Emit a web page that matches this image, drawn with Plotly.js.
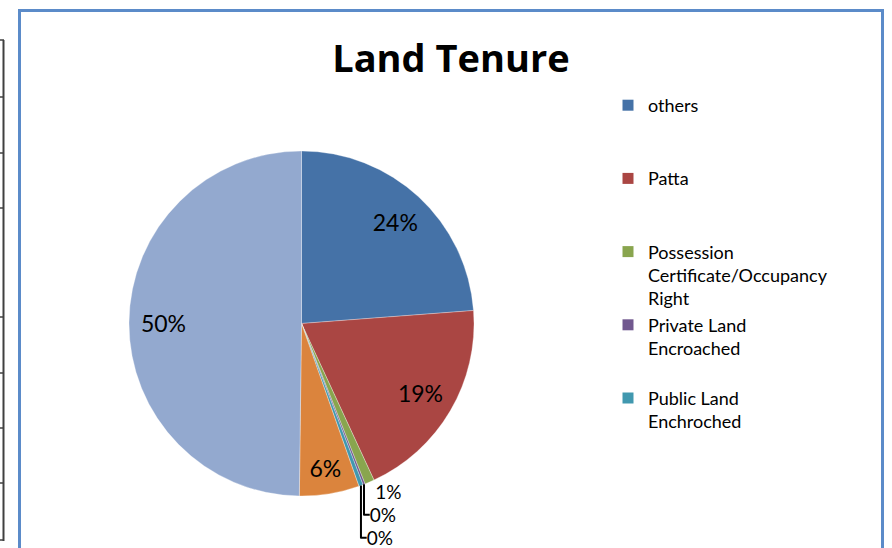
<!DOCTYPE html>
<html>
<head>
<meta charset="utf-8">
<script src="https://cdn.plot.ly/plotly-3.0.1.min.js"></script>
<style>html,body{margin:0;padding:0;background:#fff;}#chart{width:892px;height:548px;}</style>
</head>
<body>
<div id="chart"></div>
<script>
// ---- data ----
var categories = ["others", "Patta", "Possession<br>Certificate/Occupancy<br>Right", "Private Land<br>Encroached", "Public Land<br>Enchroched", "Unlisted A", "Unlisted B"];
var shares = [23.8, 19.3, 0.9, 0.2, 0.4, 5.6, 49.8];
var sliceColors = ["#4572A7", "#AA4643", "#89A54E", "#71588F", "#4198AF", "#DB843D", "#93A9CF"];
var legendCount = 5; // only the first five legend entries are visible in the chart
var titleText = "Land Tenure";

// ---- layout helpers (styling only) ----
var W = 892, H = 548;
function px(x){ return x / W; }
function py(y){ return 1 - y / H; }
var pieDomain = {x: [px(129), px(474)], y: [py(496), py(151)]};
var FONT = "Lato, 'Open Sans', sans-serif";

var textPos = shares.map(function(v){ return v < 2 ? "outside" : "inside"; });

var traces = [
  {
    type: "pie", labels: categories, values: shares, sort: false, direction: "clockwise",
    rotation: 0, domain: pieDomain, textinfo: "none", showlegend: false,
    marker: {colors: sliceColors, line: {color: "rgba(255,255,255,0.6)", width: 0.5}},
    hoverinfo: "label+percent"
  },
  {
    type: "pie", labels: categories, values: shares, sort: false, direction: "clockwise",
    rotation: 0, domain: pieDomain, hole: 0.6, showlegend: false, hoverinfo: "skip",
    marker: {colors: shares.map(function(){ return "rgba(0,0,0,0)"; }), line: {width: 0}},
    texttemplate: "%{percent:.0%}", textposition: textPos, insidetextorientation: "horizontal",
    textfont: {family: FONT, size: 23, color: "#000"},
    insidetextfont: {family: FONT, size: 23, color: "#000"},
    outsidetextfont: {family: FONT, size: 19, color: "#000"}
  }
];

for (var i = 0; i < legendCount; i++) {
  var nLines = categories[i].split("<br>").length;
  var pad = "";
  for (var k = nLines; k < 3; k++) pad += "<br> ";
  traces.push({
    type: "scatter", mode: "markers", x: [null], y: [null], name: categories[i] + pad,
    marker: {symbol: "square", size: 11, color: sliceColors[i]}, hoverinfo: "skip", showlegend: true
  });
}

var shapes = [
  {type: "rect", xref: "paper", yref: "paper", x0: px(19.5), x1: px(882.5), y0: py(600), y1: py(10.5),
   line: {color: "#5B8BC9", width: 3}, fillcolor: "rgba(0,0,0,0)"},
  {type: "line", xref: "paper", yref: "paper", x0: px(3.5), x1: px(3.5), y0: py(541), y1: py(40),
   line: {color: "#404040", width: 2}}
];
[40, 97, 153, 208, 317, 373, 428, 483, 540].forEach(function(y){
  shapes.push({type: "line", xref: "paper", yref: "paper", x0: 0, x1: px(4), y0: py(y), y1: py(y),
    line: {color: "#404040", width: 1.5}});
});

var layout = {
  width: W, height: H,
  margin: {l: 0, r: 0, t: 0, b: 0},
  paper_bgcolor: "#fff", plot_bgcolor: "#fff",
  title: {text: "<b>" + titleText + "</b>", x: 0.5055, xanchor: "center", y: py(59), yanchor: "middle",
          yref: "container", font: {family: "'Open Sans', Lato, sans-serif", size: 38, color: "#000"}},
  xaxis: {visible: false}, yaxis: {visible: false},
  showlegend: true,
  legend: {x: px(608), xanchor: "left", y: py(87), yanchor: "top", valign: "top",
           bgcolor: "rgba(0,0,0,0)", font: {family: FONT, size: 18, color: "#000"}},
  shapes: shapes
};

Plotly.newPlot("chart", traces, layout, {displayModeBar: false, staticPlot: true});
</script>
</body>
</html>
